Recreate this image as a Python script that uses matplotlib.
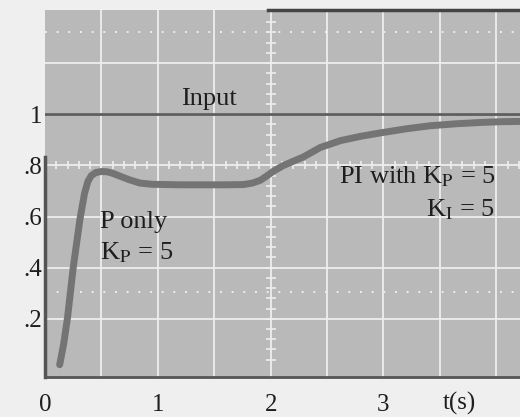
import numpy as np
import matplotlib.pyplot as plt

plt.rcParams['font.family'] = ['Liberation Serif', 'DejaVu Serif']
plt.rcParams['mathtext.fontset'] = 'stix'

# Step response
t_resp = [0.13, 0.165, 0.20, 0.25, 0.31, 0.35, 0.38, 0.41, 0.45, 0.50, 0.55, 0.60,
          0.67, 0.74, 0.84, 0.95, 1.20, 1.60, 1.76, 1.84, 1.91, 1.97, 2.02, 2.11,
          2.29, 2.44, 2.62, 2.80, 2.97, 3.20, 3.41, 3.65, 3.86, 4.05, 4.21]
v_resp = [0.02, 0.10, 0.205, 0.40, 0.59, 0.69, 0.737, 0.760, 0.772, 0.776, 0.775, 0.769,
          0.757, 0.745, 0.731, 0.726, 0.724, 0.724, 0.725, 0.731, 0.742, 0.760, 0.776, 0.799,
          0.833, 0.870, 0.897, 0.914, 0.927, 0.943, 0.955, 0.963, 0.968, 0.971, 0.972]
input_level = 1.0

xticks = [0, 1, 2, 3]
xtick_labels = ['0', '1', '2', '3']
yticks = [0.2, 0.4, 0.6, 0.8, 1.0]
ytick_labels = ['.2', '.4', '.6', '.8', '1']

bg = '#b9b9b9'
grid_c = '#eeeeee'
ink = '#1e1e1e'

fig = plt.figure(figsize=(5.2, 4.17), dpi=100)
fig.patch.set_facecolor('#efefef')
ax = fig.add_axes([45 / 520, 40 / 417, 475 / 520, 367 / 417])
ax.set_facecolor(bg)
ax.set_xlim(0, 4.21)
ax.set_ylim(-0.028, 1.408)

# scope graticule
for x in np.arange(0.5, 4.21, 0.5):
    ax.axvline(x, color=grid_c, lw=1.3, zorder=1)
for y in np.arange(0.2, 1.3, 0.2):
    ax.axhline(y, color=grid_c, lw=1.3, zorder=1)
for y in [0.306, 1.32]:
    ax.axhline(y, color=grid_c, lw=1.4, ls=(0, (1, 5)), zorder=1)

# minor ticks on the centre lines
mx = np.arange(0.1, 4.21, 0.1)
ax.plot(mx, np.full_like(mx, 0.8), ls='none', marker='|', ms=6, mew=1.2, color=grid_c, zorder=1)
my = np.arange(0.04, 1.4, 0.04)
ax.plot(np.full_like(my, 2.0), my, ls='none', marker='_', ms=7, mew=1.2, color=grid_c, zorder=1)

# traces
ax.axhline(input_level, color='#5e5e5e', lw=2, zorder=3)
ax.plot(t_resp, v_resp, color='#747474', lw=5, solid_capstyle='round',
        solid_joinstyle='round', zorder=3)

# text on the screen
ax.text(1.45, 1.058, 'Input', fontsize=19, color=ink, ha='center', va='center')
ax.text(0.49, 0.58, 'P only', fontsize=19, color=ink, ha='left', va='center')
ax.text(0.49, 0.46, r'K$_\mathrm{P}$ = 5', fontsize=19, color=ink, ha='left', va='center')
ax.text(3.99, 0.757, r'PI with K$_\mathrm{P}$ = 5', fontsize=19, color=ink,
        ha='right', va='center')
ax.text(3.99, 0.626, r'K$_\mathrm{I}$ = 5', fontsize=19, color=ink, ha='right', va='center')

ax.set_xticks(xticks)
ax.set_xticklabels(xtick_labels)
ax.set_yticks(yticks)
ax.set_yticklabels(ytick_labels)
ax.tick_params(axis='x', length=0, pad=12, labelsize=18, labelcolor=ink)
ax.tick_params(axis='y', length=0, pad=2, labelsize=18, labelcolor=ink)
ax.text(3.67, -0.071, 't(s)', transform=ax.get_xaxis_transform(), fontsize=18,
        color=ink, ha='center', va='center')

ax.spines['bottom'].set_color('#555555')
ax.spines['bottom'].set_linewidth(2)
ax.spines['left'].set_visible(False)
ax.spines['right'].set_visible(False)
ax.spines['top'].set_visible(False)
# dark edges of the photo: lower left side and right half of the top
ax.axvline(0.0, ymin=0, ymax=0.6, color='#555555', lw=2.5, zorder=4, clip_on=False)
ax.axhline(1.408, xmin=0.47, xmax=1, color='#444444', lw=2.5, zorder=4, clip_on=False)

fig.savefig('out.png', dpi=100, facecolor=fig.get_facecolor())
